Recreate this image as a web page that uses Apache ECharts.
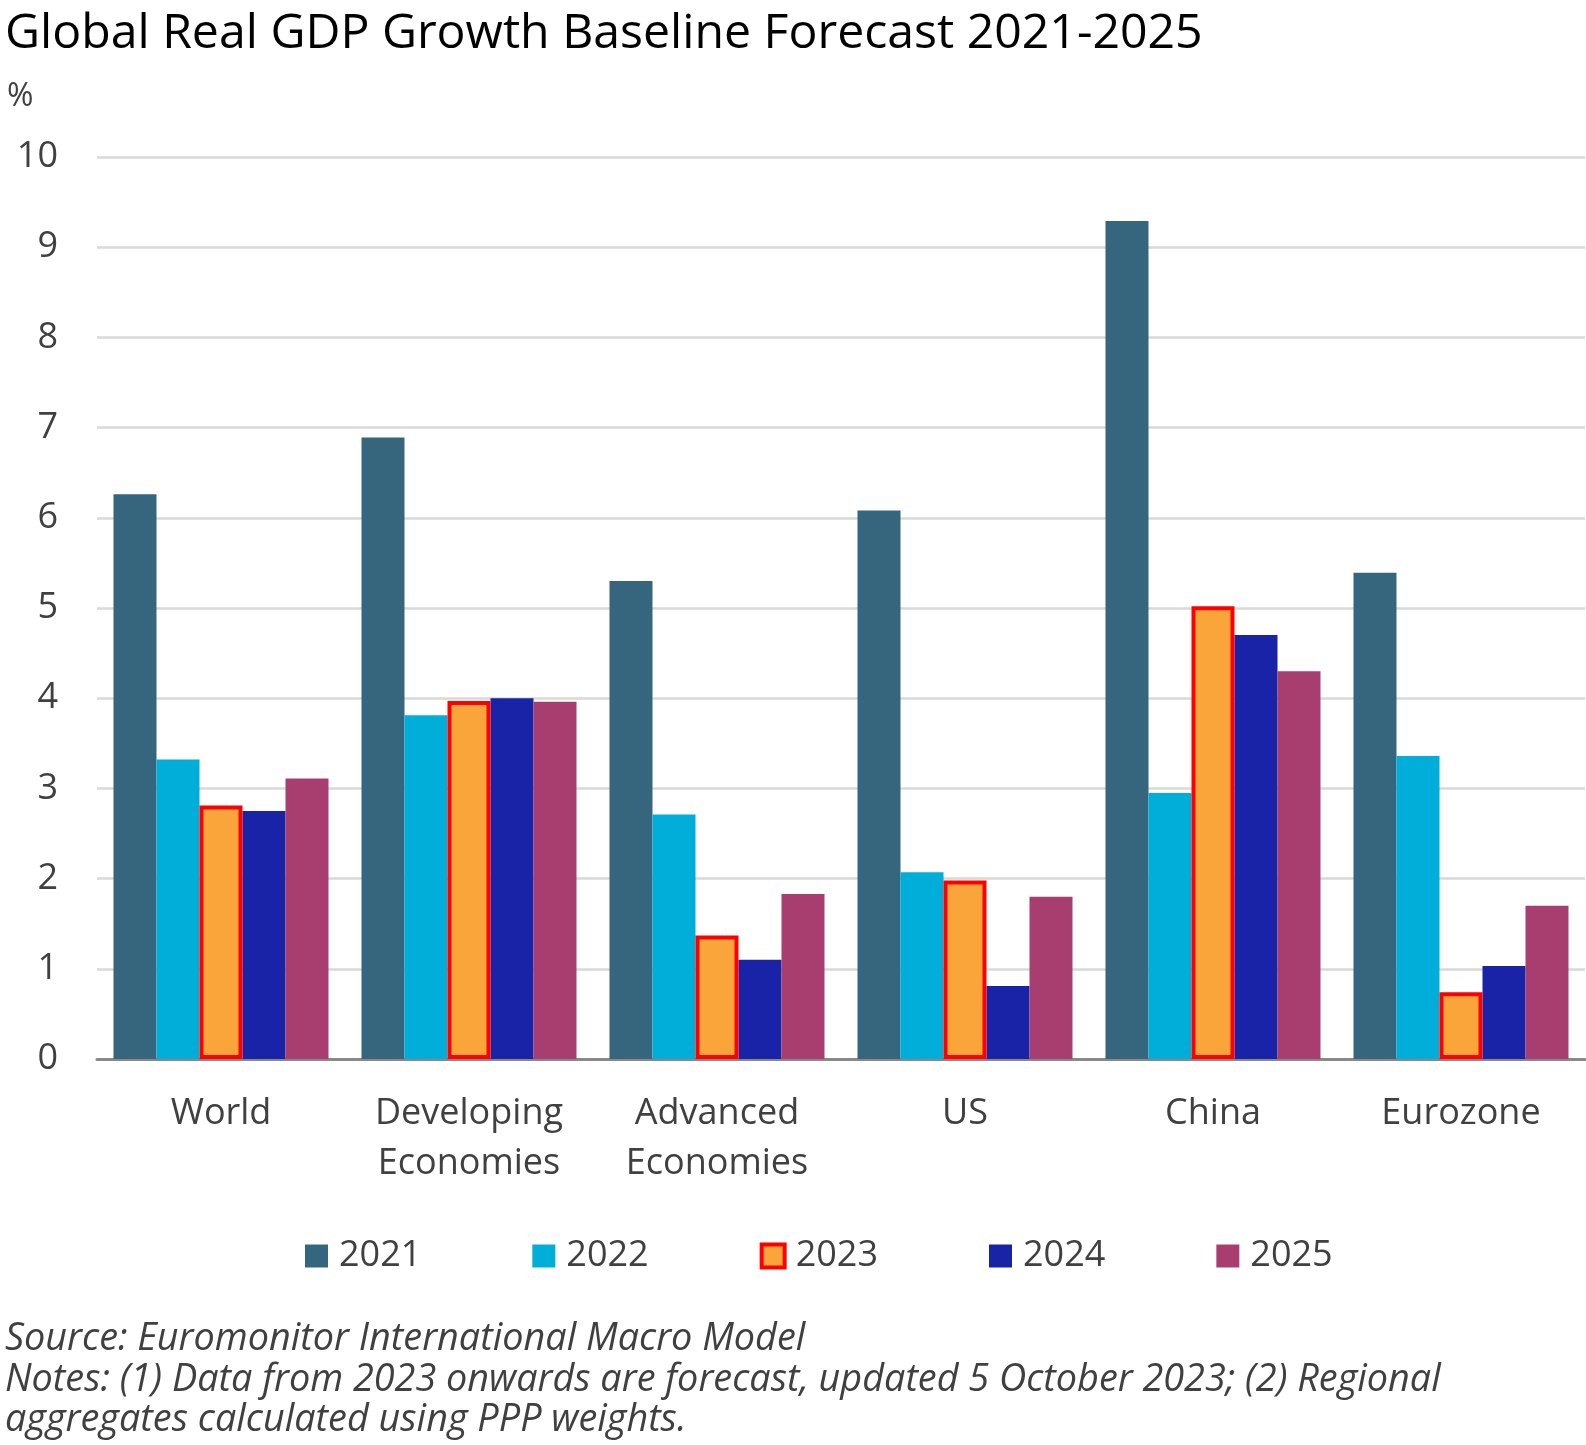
<!DOCTYPE html>
<html>
<head>
<meta charset="utf-8">
<script src="https://cdn.jsdelivr.net/npm/echarts@6/dist/echarts.min.js"></script>
<style>
  html, body { margin: 0; padding: 0; background: #fff; }
  #chart { width: 1586px; height: 1445px; }
</style>
</head>
<body>
<div id="chart"></div>
<script>
var categories = ['World', 'Developing\nEconomies', 'Advanced\nEconomies', 'US', 'China', 'Eurozone'];
var years = ['2021', '2022', '2023', '2024', '2025'];
var v2021 = [6.26, 6.89, 5.30, 6.08, 9.29, 5.39];
var v2022 = [3.32, 3.81, 2.71, 2.07, 2.95, 3.36];
var v2023 = [2.81, 3.97, 1.37, 1.98, 5.02, 0.74];
var v2024 = [2.75, 4.00, 1.10, 0.81, 4.70, 1.03];
var v2025 = [3.11, 3.96, 1.83, 1.80, 4.30, 1.70];
var yMin = 0, yMax = 10, yStep = 1;

var font = '"Open Sans", "Noto Sans", sans-serif';
var grey = '#404040';

var chart = echarts.init(document.getElementById('chart'));

function bar(name, data, color, extra) {
    var s = {
        name: name,
        type: 'bar',
        data: data,
        barGap: 0,
        barCategoryGap: '13.3%',
        itemStyle: { color: color }
    };
    if (extra) {
        // 2023 is highlighted with a red outline
        s.itemStyle.borderColor = extra.borderColor;
        s.itemStyle.borderWidth = extra.borderWidth;
        s.z = 3;
    }
    return s;
}

// legend keeps the thick red outline on the 2023 swatch
var legendData = years.map(function (y) {
    return y === '2023' ? { name: y, itemStyle: { borderWidth: 4, borderColor: '#FF0000' } } : { name: y };
});

var option = {
    animation: false,
    textStyle: { fontFamily: font },
    title: [
        {
            text: 'Global Real GDP Growth Baseline Forecast 2021-2025',
            left: 0, top: 5,
            textStyle: { fontFamily: font, fontSize: 48.2, fontWeight: 'normal', color: '#000' }
        },
        {
            text: '%',
            left: 2, top: 76,
            textStyle: { fontFamily: font, fontSize: 32, fontWeight: 'normal', color: grey }
        },
        {
            text: 'Source: Euromonitor International Macro Model\n' +
                  'Notes: (1) Data from 2023 onwards are forecast, updated 5 October 2023; (2) Regional\n' +
                  'aggregates calculated using PPP weights.',
            left: 0, top: 1314,
            textStyle: { fontFamily: font, fontSize: 37.8, fontStyle: 'italic', fontWeight: 'normal', color: grey, lineHeight: 40.5 }
        }
    ],
    legend: {
        data: legendData,
        icon: 'rect',
        left: 300,
        top: 1233,
        itemWidth: 23,
        itemHeight: 23,
        itemGap: 111,
        textStyle: { fontFamily: font, fontSize: 36, color: grey, width: 81, padding: [0, 0, 0, 6] }
    },
    grid: { left: 97, right: 1, top: 157, bottom: 386 },
    xAxis: {
        type: 'category',
        data: categories,
        axisTick: { show: false },
        axisLine: { lineStyle: { color: '#898989', width: 3 } },
        axisLabel: { fontFamily: font, fontSize: 36, color: grey, lineHeight: 50, margin: 30, interval: 0 }
    },
    yAxis: {
        type: 'value',
        min: yMin, max: yMax, interval: yStep,
        axisLine: { show: false },
        axisTick: { show: false },
        splitLine: { lineStyle: { color: '#D9D9D9', width: 2.5 } },
        axisLabel: { fontFamily: font, fontSize: 36, color: grey, margin: 39 }
    },
    series: [
        bar('2021', v2021, '#36667D'),
        bar('2022', v2022, '#00AFD9'),
        bar('2023', v2023, '#F9A53A', { borderColor: '#FF0000', borderWidth: 4 }),
        bar('2024', v2024, '#1823A8'),
        bar('2025', v2025, '#A83E6F')
    ]
};
chart.setOption(option);
</script>
</body>
</html>
